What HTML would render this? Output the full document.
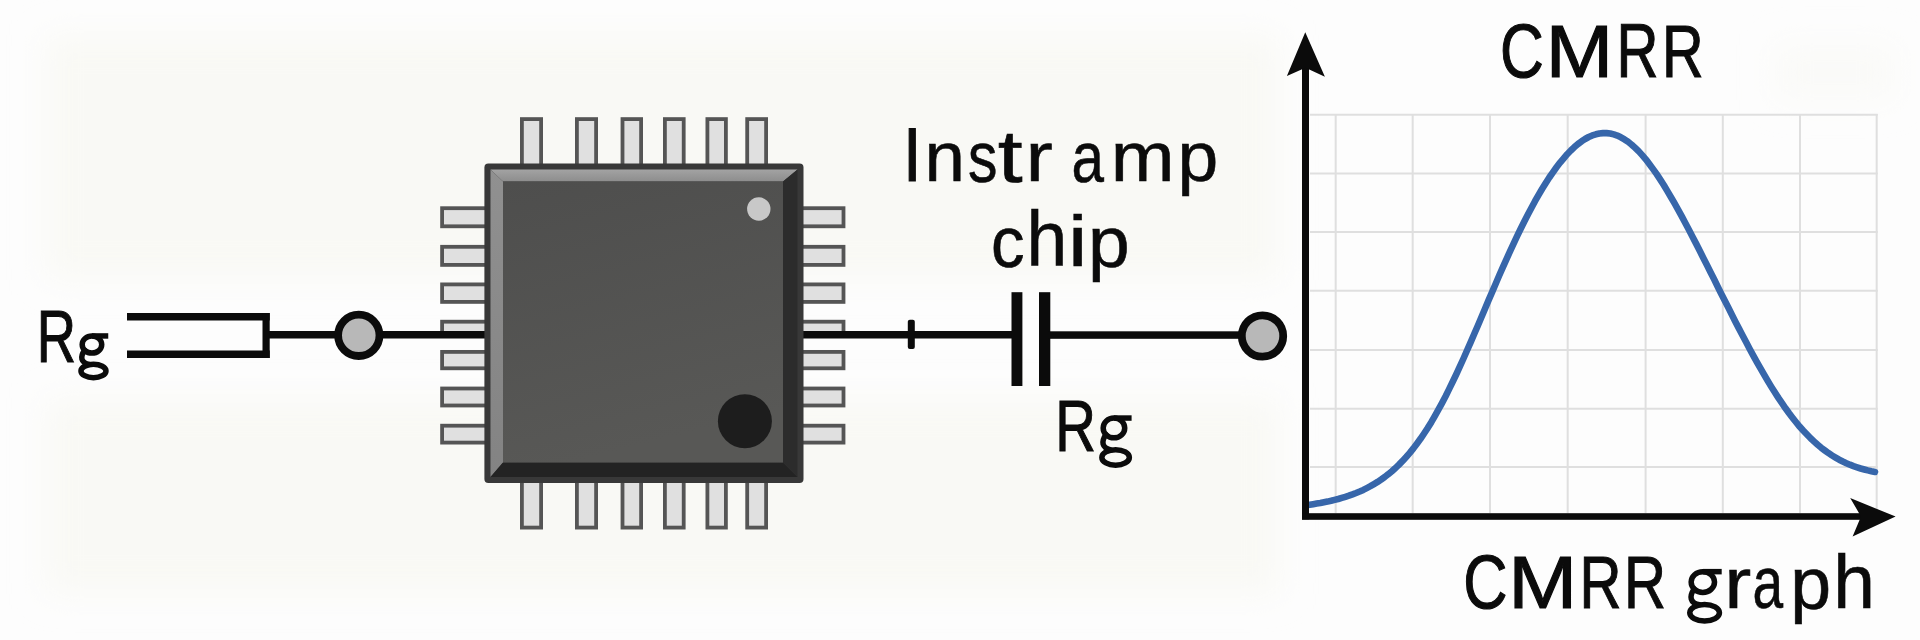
<!DOCTYPE html>
<html><head><meta charset="utf-8"><style>
html,body{margin:0;padding:0;background:#fdfdfd;}
body{width:1920px;height:640px;overflow:hidden;position:relative;}
svg{position:absolute;left:0;top:0;display:block;}
text{font-family:"Liberation Sans",sans-serif;font-size:100px;fill:#0b0b0b;stroke:#0b0b0b;stroke-width:1.5px;}
</style></head><body>
<svg width="1920" height="640" viewBox="0 0 1920 640">
<defs>
<linearGradient id="face" x1="0" y1="0" x2="0.25" y2="1"><stop offset="0" stop-color="#4e4e4d"/><stop offset="1" stop-color="#585856"/></linearGradient>
<linearGradient id="tb" x1="0" y1="0" x2="0" y2="1"><stop offset="0" stop-color="#a3a3a3"/><stop offset="1" stop-color="#8d8d8d"/></linearGradient>
<linearGradient id="lb" x1="0" y1="0" x2="0" y2="1"><stop offset="0" stop-color="#909090"/><stop offset="1" stop-color="#838383"/></linearGradient>
<filter id="blur" x="-20%" y="-50%" width="140%" height="200%"><feGaussianBlur stdDeviation="16"/></filter>
</defs>
<rect width="1920" height="640" fill="#fdfdfd"/>
<g filter="url(#blur)">
<rect x="45" y="35" width="1235" height="245" fill="#f9f9f5"/>
<rect x="45" y="398" width="1235" height="196" fill="#f9f9f5"/>
<rect x="1775" y="45" width="120" height="55" fill="#fafaf8"/>
</g>
<g><rect x="521.90" y="119.10" width="19.20" height="51.00" fill="#e0e0e0" stroke="#555" stroke-width="3.8"/><rect x="521.90" y="476.90" width="19.20" height="50.70" fill="#e0e0e0" stroke="#555" stroke-width="3.8"/><rect x="576.90" y="119.10" width="19.20" height="51.00" fill="#e0e0e0" stroke="#555" stroke-width="3.8"/><rect x="576.90" y="476.90" width="19.20" height="50.70" fill="#e0e0e0" stroke="#555" stroke-width="3.8"/><rect x="622.50" y="119.10" width="18.60" height="51.00" fill="#e0e0e0" stroke="#555" stroke-width="3.8"/><rect x="622.50" y="476.90" width="18.60" height="50.70" fill="#e0e0e0" stroke="#555" stroke-width="3.8"/><rect x="664.90" y="119.10" width="18.80" height="51.00" fill="#e0e0e0" stroke="#555" stroke-width="3.8"/><rect x="664.90" y="476.90" width="18.80" height="50.70" fill="#e0e0e0" stroke="#555" stroke-width="3.8"/><rect x="707.40" y="119.10" width="18.50" height="51.00" fill="#e0e0e0" stroke="#555" stroke-width="3.8"/><rect x="707.40" y="476.90" width="18.50" height="50.70" fill="#e0e0e0" stroke="#555" stroke-width="3.8"/><rect x="747.20" y="119.10" width="18.90" height="51.00" fill="#e0e0e0" stroke="#555" stroke-width="3.8"/><rect x="747.20" y="476.90" width="18.90" height="50.70" fill="#e0e0e0" stroke="#555" stroke-width="3.8"/><rect x="442.10" y="208.20" width="48.00" height="18.10" fill="#e0e0e0" stroke="#555" stroke-width="3.8"/><rect x="796.90" y="208.20" width="46.60" height="18.10" fill="#e0e0e0" stroke="#555" stroke-width="3.8"/><rect x="442.10" y="246.80" width="48.00" height="18.10" fill="#e0e0e0" stroke="#555" stroke-width="3.8"/><rect x="796.90" y="246.80" width="46.60" height="18.10" fill="#e0e0e0" stroke="#555" stroke-width="3.8"/><rect x="442.10" y="284.40" width="48.00" height="17.50" fill="#e0e0e0" stroke="#555" stroke-width="3.8"/><rect x="796.90" y="284.40" width="46.60" height="17.50" fill="#e0e0e0" stroke="#555" stroke-width="3.8"/><rect x="442.10" y="321.70" width="48.00" height="13.40" fill="#e0e0e0" stroke="#555" stroke-width="3.8"/><rect x="796.90" y="321.70" width="46.60" height="13.40" fill="#e0e0e0" stroke="#555" stroke-width="3.8"/><rect x="442.10" y="351.90" width="48.00" height="16.40" fill="#e0e0e0" stroke="#555" stroke-width="3.8"/><rect x="796.90" y="351.90" width="46.60" height="16.40" fill="#e0e0e0" stroke="#555" stroke-width="3.8"/><rect x="442.10" y="388.50" width="48.00" height="17.00" fill="#e0e0e0" stroke="#555" stroke-width="3.8"/><rect x="796.90" y="388.50" width="46.60" height="17.00" fill="#e0e0e0" stroke="#555" stroke-width="3.8"/><rect x="442.10" y="425.70" width="48.00" height="16.90" fill="#e0e0e0" stroke="#555" stroke-width="3.8"/><rect x="796.90" y="425.70" width="46.60" height="16.90" fill="#e0e0e0" stroke="#555" stroke-width="3.8"/></g>
<!-- left resistor -->
<g fill="#0b0b0b">
<rect x="127" y="313" width="142.7" height="7.5"/>
<rect x="127" y="350.5" width="142.7" height="7.5"/>
<rect x="262.5" y="313" width="7.2" height="45"/>
<rect x="269" y="331" width="70" height="7.5"/>
<rect x="378" y="331" width="110" height="7.5"/>
<rect x="800" y="331" width="214" height="7.5"/>
<rect x="907.8" y="319.8" width="7" height="29.2" rx="2"/>
<rect x="1011.5" y="292.2" width="10.9" height="93.8"/>
<rect x="1039" y="292.2" width="11.3" height="93.8"/>
<rect x="1048" y="331.3" width="195" height="7.5"/>
</g>
<circle cx="358.8" cy="335.3" r="20.7" fill="#b8b8b8" stroke="#0b0b0b" stroke-width="7.8"/>
<circle cx="1262.5" cy="336" r="20.7" fill="#b8b8b8" stroke="#0b0b0b" stroke-width="7.8"/>
<!-- chip -->
<g>
<rect x="484.4" y="163.4" width="319.1" height="319.6" rx="4" fill="#383838"/>
<polygon points="490.5,169.5 797.5,169.5 783,181.5 503,181.5" fill="url(#tb)"/>
<polygon points="490.5,169.5 503,181.5 503,462.5 490.5,477" fill="url(#lb)"/>
<polygon points="490.5,477 503,462.5 783,462.5 797.5,477" fill="#232323"/>
<polygon points="797.5,169.5 797.5,477 783,462.5 783,181.5" fill="#2c2c2c"/>
<rect x="503" y="181.5" width="280" height="281" fill="url(#face)"/>
<circle cx="758.8" cy="209" r="11.7" fill="#c8c8c8"/>
<circle cx="744.9" cy="421.2" r="27" fill="#1d1d1d"/>
</g>
<!-- graph -->
<g stroke="#dfdfdf" stroke-width="2"><line x1="1335.7" y1="114" x2="1335.7" y2="513" /><line x1="1412.7" y1="114" x2="1412.7" y2="513" /><line x1="1490" y1="114" x2="1490" y2="513" /><line x1="1567.7" y1="114" x2="1567.7" y2="513" /><line x1="1645.6" y1="114" x2="1645.6" y2="513" /><line x1="1722.8" y1="114" x2="1722.8" y2="513" /><line x1="1800" y1="114" x2="1800" y2="513" /><line x1="1876.7" y1="114" x2="1876.7" y2="513" /><line x1="1310" y1="114.8" x2="1877.7" y2="114.8" /><line x1="1310" y1="173.6" x2="1877.7" y2="173.6" /><line x1="1310" y1="232.1" x2="1877.7" y2="232.1" /><line x1="1310" y1="290.7" x2="1877.7" y2="290.7" /><line x1="1310" y1="350.1" x2="1877.7" y2="350.1" /><line x1="1310" y1="408.7" x2="1877.7" y2="408.7" /><line x1="1310" y1="467.1" x2="1877.7" y2="467.1" /></g>
<path d="M1306.0,505.3 L1309.6,504.8 L1313.2,504.2 L1316.7,503.6 L1320.3,503.0 L1323.9,502.3 L1327.5,501.6 L1331.1,500.8 L1334.6,499.9 L1338.2,499.0 L1341.8,497.9 L1345.4,496.8 L1348.9,495.7 L1352.5,494.4 L1356.1,493.0 L1359.7,491.5 L1363.3,489.9 L1366.8,488.1 L1370.4,486.2 L1374.0,484.1 L1377.6,481.9 L1381.2,479.5 L1384.7,477.0 L1388.3,474.2 L1391.9,471.2 L1395.5,468.0 L1399.0,464.6 L1402.6,460.9 L1406.2,457.0 L1409.8,452.9 L1413.4,448.4 L1416.9,443.7 L1420.5,438.8 L1424.1,433.5 L1427.7,428.0 L1431.3,422.2 L1434.8,416.1 L1438.4,409.7 L1442.0,403.1 L1445.6,396.2 L1449.1,389.1 L1452.7,381.7 L1456.3,374.2 L1459.9,366.4 L1463.5,358.5 L1467.0,350.5 L1470.6,342.3 L1474.2,334.0 L1477.8,325.7 L1481.4,317.3 L1484.9,308.9 L1488.5,300.4 L1492.1,292.1 L1495.7,283.7 L1499.2,275.5 L1502.8,267.3 L1506.4,259.3 L1510.0,251.4 L1513.6,243.6 L1517.1,236.1 L1520.7,228.7 L1524.3,221.5 L1527.9,214.5 L1531.5,207.7 L1535.0,201.2 L1538.6,194.9 L1542.2,188.8 L1545.8,183.0 L1549.3,177.5 L1552.9,172.3 L1556.5,167.3 L1560.1,162.6 L1563.7,158.3 L1567.2,154.2 L1570.8,150.5 L1574.4,147.1 L1578.0,144.0 L1581.6,141.3 L1585.1,139.0 L1588.7,137.0 L1592.3,135.4 L1595.9,134.3 L1599.4,133.5 L1603.0,133.1 L1606.6,133.1 L1610.2,133.5 L1613.8,134.4 L1617.3,135.6 L1620.9,137.3 L1624.5,139.4 L1628.1,141.8 L1631.7,144.7 L1635.2,147.9 L1638.8,151.4 L1642.4,155.4 L1646.0,159.6 L1649.5,164.2 L1653.1,169.1 L1656.7,174.2 L1660.3,179.6 L1663.9,185.2 L1667.4,191.1 L1671.0,197.2 L1674.6,203.4 L1678.2,209.8 L1681.8,216.4 L1685.3,223.0 L1688.9,229.8 L1692.5,236.7 L1696.1,243.6 L1699.6,250.6 L1703.2,257.7 L1706.8,264.8 L1710.4,272.0 L1714.0,279.1 L1717.5,286.2 L1721.1,293.4 L1724.7,300.5 L1728.3,307.6 L1731.9,314.7 L1735.4,321.7 L1739.0,328.6 L1742.6,335.5 L1746.2,342.3 L1749.7,349.0 L1753.3,355.6 L1756.9,362.1 L1760.5,368.4 L1764.1,374.7 L1767.6,380.7 L1771.2,386.6 L1774.8,392.3 L1778.4,397.9 L1782.0,403.2 L1785.5,408.3 L1789.1,413.3 L1792.7,418.0 L1796.3,422.5 L1799.8,426.8 L1803.4,430.8 L1807.0,434.6 L1810.6,438.3 L1814.2,441.6 L1817.7,444.8 L1821.3,447.8 L1824.9,450.5 L1828.5,453.1 L1832.1,455.5 L1835.6,457.6 L1839.2,459.7 L1842.8,461.5 L1846.4,463.2 L1849.9,464.7 L1853.5,466.1 L1857.1,467.3 L1860.7,468.5 L1864.3,469.5 L1867.8,470.4 L1871.4,471.2 L1875.0,471.9" fill="none" stroke="#3766aa" stroke-width="6.6" stroke-linecap="round" stroke-linejoin="round"/>
<g fill="#0b0b0b">
<rect x="1302" y="66" width="7" height="453.3"/>
<polygon points="1305.25,32.2 1324.9,76.8 1305.5,67.8 1286.9,75.9"/>
<rect x="1302" y="513.2" width="562" height="6.6"/>
<polygon points="1895.6,516.6 1852.6,536.5 1861,516.5 1850.2,498"/>
</g>
<g class="t"><text transform="matrix(0.6667,0,0,0.7560,903.00,181.23)">I</text>
<text style="stroke-width:0.8px" transform="matrix(0.7264,0,0,0.7068,924.46,181.45)">n</text>
<text style="stroke-width:0.8px" transform="matrix(0.5888,0,0,0.7211,968.08,181.72)">s</text>
<text style="stroke-width:0.8px" transform="matrix(0.8962,0,0,0.7444,997.85,181.67)">t</text>
<text style="stroke-width:0.8px" transform="matrix(0.8192,0,0,0.7068,1025.48,181.45)">r</text>
<text style="stroke-width:0.8px" transform="matrix(0.5838,0,0,0.7211,1071.56,181.72)">a</text>
<text style="stroke-width:0.8px" transform="matrix(0.7662,0,0,0.7068,1110.81,181.45)">m</text>
<text style="stroke-width:0.8px" transform="matrix(0.7326,0,0,0.7073,1177.50,181.47)">p</text>
<text style="stroke-width:0.8px" transform="matrix(0.6705,0,0,0.7247,990.89,266.51)">c</text>
<text style="stroke-width:0.8px" transform="matrix(0.7329,0,0,0.7755,1026.54,266.41)">h</text>
<text style="stroke-width:0.8px" transform="matrix(0.8718,0,0,0.7265,1068.05,266.44)">i</text>
<text style="stroke-width:0.8px" transform="matrix(0.7500,0,0,0.7258,1088.00,266.88)">p</text>
<text transform="matrix(0.6062,0,0,0.7559,1499.92,76.88)">C</text>
<text transform="matrix(0.8087,0,0,0.7504,1545.84,76.64)">M</text>
<text transform="matrix(0.5814,0,0,0.7504,1616.39,76.64)">R</text>
<text transform="matrix(0.5765,0,0,0.7504,1662.12,76.64)">R</text>
<text transform="matrix(0.6123,0,0,0.7531,1463.30,608.38)">C</text>
<text transform="matrix(0.8276,0,0,0.7426,1508.20,608.04)">M</text>
<text transform="matrix(0.5814,0,0,0.7426,1579.59,608.04)">R</text>
<text transform="matrix(0.5814,0,0,0.7426,1623.89,608.04)">R</text>
<g fill="none" stroke="#0b0b0b" stroke-width="5.50" stroke-linecap="round"><ellipse cx="1702.84" cy="582.06" rx="11.68" ry="10.41"/><ellipse cx="1704.60" cy="612.78" rx="14.85" ry="8.22"/><path d="M1702.84,571.65 L1721.70,571.65" stroke-linecap="butt"/><path d="M1694.08,588.94 C1689.11,596.33 1689.82,602.91 1699.40,604.81"/></g>
<text style="stroke-width:0.8px" transform="matrix(0.8115,0,0,0.7251,1724.13,608.24)">r</text>
<text style="stroke-width:0.8px" transform="matrix(0.5505,0,0,0.7390,1752.44,608.49)">a</text>
<text style="stroke-width:0.8px" transform="matrix(0.7348,0,0,0.7364,1790.19,608.85)">p</text>
<text style="stroke-width:0.8px" transform="matrix(0.7491,0,0,0.7660,1833.33,608.22)">h</text>
<text transform="matrix(0.5441,0,0,0.7461,36.66,361.64)">R</text>
<g fill="none" stroke="#0b0b0b" stroke-width="5.50" stroke-linecap="round"><ellipse cx="91.95" cy="344.53" rx="9.78" ry="8.58"/><ellipse cx="93.47" cy="370.96" rx="12.52" ry="6.69"/><path d="M91.95,335.95 L108.25,335.95" stroke-linecap="butt"/><path d="M84.62,350.19 C80.03,356.80 80.64,362.46 89.09,364.47"/></g>
<text transform="matrix(0.5636,0,0,0.7248,1055.31,451.06)">R</text>
<g fill="none" stroke="#0b0b0b" stroke-width="5.50" stroke-linecap="round"><ellipse cx="1113.95" cy="427.95" rx="10.78" ry="9.90"/><ellipse cx="1115.60" cy="457.46" rx="13.75" ry="7.79"/><path d="M1113.95,418.05 L1131.60,418.05" stroke-linecap="butt"/><path d="M1105.86,434.48 C1101.08,441.65 1101.74,447.97 1110.79,449.90"/></g></g>
</svg>
</body></html>
